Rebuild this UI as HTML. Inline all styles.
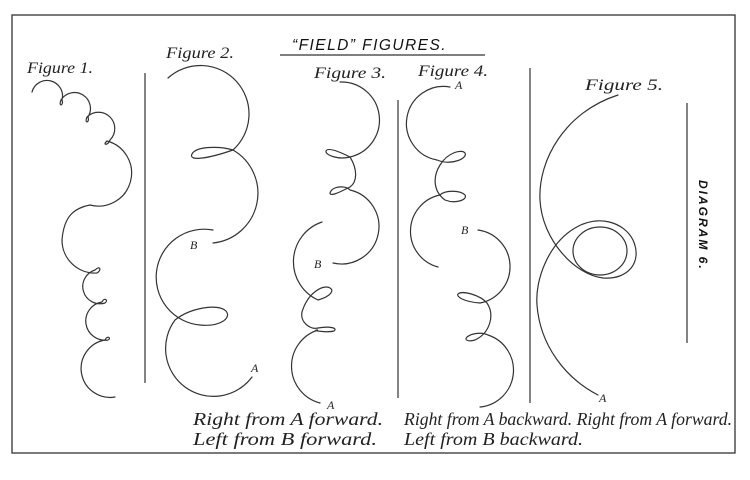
<!DOCTYPE html>
<html><head><meta charset="utf-8"><style>
html,body{margin:0;padding:0;background:#fff;width:750px;height:480px;overflow:hidden}
svg{display:block}
.f{font-family:"Liberation Serif",serif;font-style:italic;fill:#222}
</style></head><body>
<svg width="750" height="480" viewBox="0 0 750 480" xmlns="http://www.w3.org/2000/svg">
<rect x="12" y="15" width="723" height="438" fill="none" stroke="#333" stroke-width="1.3"/>
<g stroke="#333" stroke-width="1.2">
<line x1="145" y1="73" x2="145" y2="383"/>
<line x1="398" y1="100" x2="398" y2="398"/>
<line x1="530" y1="68" x2="530" y2="403"/>
<line x1="687" y1="103" x2="687" y2="343"/>
<line x1="280" y1="55" x2="485" y2="55"/>
</g>
<text x="292" y="50" font-family="Liberation Sans,sans-serif" font-style="italic" font-size="16" letter-spacing="1.5" fill="#111" textLength="155" lengthAdjust="spacingAndGlyphs">“FIELD” FIGURES.</text>
<text class="f" x="27" y="73" font-size="16" textLength="66" lengthAdjust="spacingAndGlyphs">Figure 1.</text>
<text class="f" x="166" y="58" font-size="16" textLength="68" lengthAdjust="spacingAndGlyphs">Figure 2.</text>
<text class="f" x="314" y="78" font-size="16" textLength="72" lengthAdjust="spacingAndGlyphs">Figure 3.</text>
<text class="f" x="418" y="76" font-size="16" textLength="70" lengthAdjust="spacingAndGlyphs">Figure 4.</text>
<text class="f" x="585" y="90" font-size="16" textLength="78" lengthAdjust="spacingAndGlyphs">Figure 5.</text>
<text class="f" x="190" y="249" font-size="12">B</text>
<text class="f" x="314" y="268" font-size="12">B</text>
<text class="f" x="461" y="234" font-size="12">B</text>
<text class="f" x="251" y="372" font-size="12">A</text>
<text class="f" x="327" y="409" font-size="12">A</text>
<text class="f" x="455" y="89" font-size="12">A</text>
<text class="f" x="599" y="402" font-size="12">A</text>
<text class="f" x="193" y="425" font-size="18" textLength="190" lengthAdjust="spacingAndGlyphs">Right from A forward.</text>
<text class="f" x="193" y="445" font-size="18" textLength="184" lengthAdjust="spacingAndGlyphs">Left from B forward.</text>
<text class="f" x="404" y="425" font-size="18" textLength="328" lengthAdjust="spacingAndGlyphs">Right from A backward. Right from A forward.</text>
<text class="f" x="404" y="445" font-size="18" textLength="179" lengthAdjust="spacingAndGlyphs">Left from B backward.</text>
<text x="0" y="0" transform="translate(699,180) rotate(90)" font-family="Liberation Sans,sans-serif" font-style="italic" font-weight="bold" font-size="12" letter-spacing="2" fill="#111">DIAGRAM 6.</text>
<g fill="none" stroke="#333" stroke-width="1.2" stroke-linecap="round">
<path d="M32,92 A15,15 0 0 1 62,100 c2,6 -4,7 -1,0 A13,13 0 0 1 88,117 c2,6 -4,7 -1,0 A14,14 0 0 1 110,140 c-2,6 -8,5 -3,1 A30,30 0 0 1 90,205 C75,208 64,215 62,240 A33,33 0 0 0 97,273 c5,-3 3,-8 -2,-3 A14,14 0 0 0 105,303 c4,-3 -1,-6 -3,-1 A15,15 0 0 0 108,340 c4,-2 -1,-5 -3,0 A26,26 0 0 0 115,397"/>
<path d="M168,78 A42,42 0 1 1 233,150 C210,158 188,162 192,154 C196,146 220,146 233,150 A50,50 0 0 1 213,243"/>
<path d="M213,230 A48,48 0 1 0 200,325 C220,327 232,318 226,311 C218,303 190,308 175,320 A46,46 0 1 0 252,377"/>
<path d="M340,82 A38,38 0 0 1 350,157 C338,160 325,155 326,151 C328,147 340,152 350,157 C358,170 357,182 350,187 C340,192 330,197 330,193 C332,186 345,185 350,190 A37,37 0 0 1 333,263"/>
<path d="M322,222 A42,42 0 0 0 318,300 C332,296 334,290 330,288 C324,284 308,292 302,312 C300,322 310,330 318,328 C330,326 338,328 334,331 C326,333 310,330 318,330 A38,38 0 0 0 320,403"/>
<path d="M450,87 A37,37 0 0 0 437,160 C452,166 468,158 465,153 C462,149 448,152 440,165 C432,178 434,192 445,200 C455,204 468,200 465,195 C460,190 445,190 440,195 A37,37 0 0 0 438,267"/>
<path d="M478,230 A37,37 0 0 1 480,303 C465,302 456,297 458,294 C462,290 480,295 487,303 C495,315 490,333 475,340 C468,342 464,340 467,337 C472,333 482,332 488,335 A37,37 0 0 1 480,407"/>
<path d="M618,95 C565,112 538,160 540,200 C542,240 575,275 603,278 C628,280 643,262 633,240 C624,222 598,214 575,228 C548,244 535,280 537,305 C540,345 565,378 598,395"/>
<ellipse cx="600" cy="251" rx="27" ry="24"/>
</g>
</svg>
</body></html>
